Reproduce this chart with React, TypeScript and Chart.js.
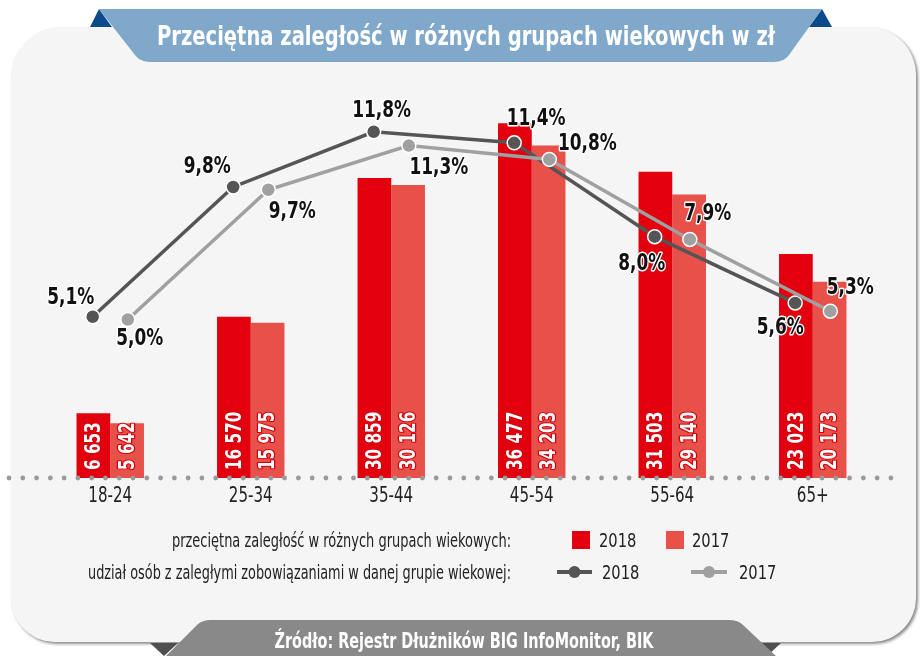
import React, { useEffect, useRef } from 'react';
import { Chart, registerables } from 'chart.js';

Chart.register(...registerables);

const categories = ['18-24', '25-34', '35-44', '45-54', '55-64', '65+'];
const debt2018 = [6653, 16570, 30859, 36477, 31503, 23023];
const debt2017 = [5642, 15975, 30126, 34203, 29140, 20173];
const share2018 = [5.1, 9.8, 11.8, 11.4, 8.0, 5.6];
const share2017 = [5.0, 9.7, 11.3, 10.8, 7.9, 5.3];
const yearLabels = ['2018', '2017'];

const TITLE = 'Przeciętna zaległość w różnych grupach wiekowych w zł';
const SOURCE = 'Źródło: Rejestr Dłużników BIG InfoMonitor, BIK';
const LEGEND_BARS = 'przeciętna zaległość w różnych grupach wiekowych:';
const LEGEND_LINES = 'udział osób z zaległymi zobowiązaniami w danej grupie wiekowej:';

// label placement (style), relative to point
const LABEL_OFF_2018 = [[-22, -19], [-26, -20], [8, -21], [22, -24], [-13, 27], [-15, 25]];
const LABEL_OFF_2017 = [[12, 20], [24, 22], [30, 22], [38, -15], [18, -25], [20, -23]];

const NARROW = "'DejaVu Sans Condensed', 'Liberation Sans Narrow', sans-serif";
const RED18 = '#e2000f';
const RED17 = '#e8504a';
const GRAY18 = '#555555';
const GRAY17 = '#a0a0a0';
const LINE_SHIFT = 0.125;

const fmtThousands = (n: number) => String(n).replace(/\B(?=(\d{3})+(?!\d))/g, ' ');
const fmtPct = (v: number) => v.toFixed(1).replace('.', ',') + '%';

// draw text squeezed horizontally by sx
function sText(
  ctx: CanvasRenderingContext2D,
  text: string,
  x: number,
  y: number,
  sx: number,
  align: CanvasTextAlign,
  stroke?: { color: string; width: number }
) {
  ctx.save();
  ctx.translate(x, y);
  ctx.scale(sx, 1);
  ctx.textAlign = align;
  if (stroke) {
    ctx.strokeStyle = stroke.color;
    ctx.lineWidth = stroke.width;
    ctx.lineJoin = 'round';
    ctx.strokeText(text, 0, 0);
  }
  ctx.fillText(text, 0, 0);
  ctx.restore();
}

// draw text fitted to target width
function fText(ctx: CanvasRenderingContext2D, text: string, x: number, y: number, width: number, align: CanvasTextAlign) {
  const w = ctx.measureText(text).width;
  sText(ctx, text, x, y, width / w, align);
}

const decorPlugin = {
  id: 'decor',
  beforeDraw(chart: any) {
    const ctx = chart.ctx as CanvasRenderingContext2D;
    const W = chart.width;
    const H = chart.height;
    ctx.save();
    ctx.fillStyle = '#ffffff';
    ctx.fillRect(0, 0, W, H);

    // panel
    ctx.save();
    ctx.shadowColor = 'rgba(0,0,0,0.45)';
    ctx.shadowOffsetX = 2;
    ctx.shadowOffsetY = 2;
    ctx.shadowBlur = 3;
    ctx.beginPath();
    (ctx as any).roundRect(11, 27, 905, 615, [50, 48, 44, 44]);
    ctx.fillStyle = '#f5f5f5';
    ctx.fill();
    ctx.restore();

    // title triangles
    ctx.fillStyle = '#0b4a8b';
    ctx.beginPath();
    ctx.moveTo(90, 27); ctx.lineTo(99, 9); ctx.lineTo(112, 27); ctx.closePath(); ctx.fill();
    ctx.beginPath();
    ctx.moveTo(809, 27); ctx.lineTo(822, 9); ctx.lineTo(832, 27); ctx.closePath(); ctx.fill();

    // title banner
    ctx.fillStyle = '#80a8cb';
    ctx.beginPath();
    ctx.moveTo(99, 9);
    ctx.lineTo(822, 9);
    ctx.lineTo(789, 55);
    ctx.quadraticCurveTo(784, 62, 774, 62);
    ctx.lineTo(150, 62);
    ctx.quadraticCurveTo(140, 62, 135, 55);
    ctx.closePath();
    ctx.fill();

    ctx.fillStyle = '#ffffff';
    ctx.font = `bold 26px ${NARROW}`;
    ctx.textBaseline = 'alphabetic';
    fText(ctx, TITLE, 466, 45, 618, 'center');

    // footer triangles
    ctx.fillStyle = '#4f4f4f';
    ctx.beginPath();
    ctx.moveTo(150, 643); ctx.lineTo(178, 643); ctx.lineTo(164, 656); ctx.closePath(); ctx.fill();
    ctx.beginPath();
    ctx.moveTo(752, 643); ctx.lineTo(781, 643); ctx.lineTo(767, 656); ctx.closePath(); ctx.fill();

    // footer banner
    ctx.fillStyle = '#898989';
    ctx.beginPath();
    ctx.moveTo(166, 656);
    ctx.lineTo(197, 625);
    ctx.quadraticCurveTo(202, 620, 211, 620);
    ctx.lineTo(729, 620);
    ctx.quadraticCurveTo(738, 620, 743, 625);
    ctx.lineTo(776, 656);
    ctx.closePath();
    ctx.fill();

    ctx.fillStyle = '#ffffff';
    ctx.font = `bold 22px ${NARROW}`;
    fText(ctx, SOURCE, 464, 648, 379, 'center');

    // legend
    ctx.fillStyle = '#222222';
    ctx.font = `19px ${NARROW}`;
    ctx.textBaseline = 'alphabetic';
    fText(ctx, LEGEND_BARS, 511, 547, 339, 'right');
    fText(ctx, LEGEND_LINES, 511, 579, 423, 'right');

    ctx.fillStyle = RED18;
    ctx.fillRect(572, 531, 18, 18);
    ctx.fillStyle = RED17;
    ctx.fillRect(666, 531, 18, 18);

    const lineLegend = (x0: number, x1: number, color: string) => {
      ctx.strokeStyle = color;
      ctx.lineWidth = 4;
      ctx.beginPath();
      ctx.moveTo(x0, 572);
      ctx.lineTo(x1, 572);
      ctx.stroke();
      ctx.fillStyle = color;
      ctx.beginPath();
      ctx.arc((x0 + x1) / 2, 572, 6, 0, Math.PI * 2);
      ctx.fill();
    };
    lineLegend(557, 592, GRAY18);
    lineLegend(691, 727, GRAY17);

    ctx.fillStyle = '#222222';
    ctx.font = `19px ${NARROW}`;
    sText(ctx, yearLabels[0], 599, 547, 0.86, 'left');
    sText(ctx, yearLabels[1], 692, 547, 0.86, 'left');
    sText(ctx, yearLabels[0], 602, 579, 0.86, 'left');
    sText(ctx, yearLabels[1], 739, 579, 0.86, 'left');
    ctx.restore();
  },
  afterDatasetsDraw(chart: any) {
    const ctx = chart.ctx as CanvasRenderingContext2D;
    const area = chart.chartArea;
    ctx.save();

    // bar value labels
    ctx.font = `bold 22px ${NARROW}`;
    ctx.textBaseline = 'middle';
    chart.data.datasets.forEach((ds: any, di: number) => {
      if (ds.type !== 'bar') return;
      const meta = chart.getDatasetMeta(di);
      meta.data.forEach((el: any, i: number) => {
        ctx.save();
        ctx.translate(el.x, area.bottom - 8);
        ctx.rotate(-Math.PI / 2);
        ctx.fillStyle = '#ffffff';
        sText(ctx, fmtThousands(ds.data[i]), 0, 1, 0.77, 'left', { color: '#d0000c', width: 2.5 });
        ctx.restore();
      });
    });

    // dotted axis
    ctx.fillStyle = '#9a9a9a';
    for (let x = 9; x <= 891; x += 13.78) {
      ctx.beginPath();
      ctx.arc(x, area.bottom, 2.4, 0, Math.PI * 2);
      ctx.fill();
    }

    // category labels from the x scale
    const xs = chart.scales.x;
    ctx.fillStyle = '#222222';
    ctx.font = `21px ${NARROW}`;
    ctx.textBaseline = 'alphabetic';
    xs.ticks.forEach((_t: any, i: number) => {
      sText(ctx, String(chart.data.labels[i]), xs.getPixelForTick(i), area.bottom + 24, 0.8, 'center');
    });
    ctx.restore();
  },
  afterDraw(chart: any) {
    const ctx = chart.ctx as CanvasRenderingContext2D;
    ctx.save();
    ctx.font = `bold 23px ${NARROW}`;
    ctx.textBaseline = 'middle';
    chart.data.datasets.forEach((ds: any, di: number) => {
      if (ds.type !== 'line') return;
      const offs = ds.labelOffsets as number[][];
      const meta = chart.getDatasetMeta(di);
      meta.data.forEach((el: any, i: number) => {
        ctx.fillStyle = '#111111';
        sText(ctx, fmtPct(ds.data[i].y), el.x + offs[i][0], el.y + offs[i][1], 0.82, 'center', { color: '#ffffff', width: 3 });
      });
    });
    ctx.restore();
  },
};

export default function App() {
  const ref = useRef<HTMLCanvasElement | null>(null);

  useEffect(() => {
    document.body.style.margin = '0';
    if (!ref.current) return;
    const lineDs = (vals: number[], shift: number, color: string, label: string, offs: number[][], order: number) => ({
      type: 'line' as const,
      label,
      data: vals.map((v, i) => ({ x: i + shift, y: v })),
      xAxisID: 'xl',
      yAxisID: 'yp',
      borderColor: color,
      backgroundColor: color,
      borderWidth: 3.5,
      pointRadius: 7,
      pointBorderColor: '#ffffff',
      pointBorderWidth: 1.5,
      pointBackgroundColor: color,
      tension: 0,
      order,
      labelOffsets: offs,
    });
    const chart = new Chart(ref.current, {
      type: 'bar',
      data: {
        labels: categories,
        datasets: [
          lineDs(share2018, -LINE_SHIFT, GRAY18, yearLabels[0], LABEL_OFF_2018, 1) as any,
          lineDs(share2017, LINE_SHIFT, GRAY17, yearLabels[1], LABEL_OFF_2017, 0) as any,
          {
            type: 'bar',
            label: yearLabels[0],
            data: debt2018,
            backgroundColor: RED18,
            xAxisID: 'x',
            yAxisID: 'y',
            categoryPercentage: 0.96,
            barPercentage: 1,
            order: 2,
          },
          {
            type: 'bar',
            label: yearLabels[1],
            data: debt2017,
            backgroundColor: RED17,
            xAxisID: 'x',
            yAxisID: 'y',
            categoryPercentage: 0.96,
            barPercentage: 1,
            order: 2,
          },
        ],
      },
      options: {
        animation: false,
        responsive: true,
        maintainAspectRatio: false,
        layout: { padding: { top: 89, left: 40, right: 37, bottom: 0 } },
        plugins: { legend: { display: false }, tooltip: { enabled: false } },
        scales: {
          x: {
            type: 'category',
            offset: true,
            grid: { display: false, drawTicks: false },
            border: { display: false },
            ticks: { display: false },
            afterFit: (s: any) => { s.height = 178; },
          },
          xl: { type: 'linear', display: false, offset: false, grid: { offset: false }, min: -0.5, max: 5.5 },
          y: { type: 'linear', display: false, min: 0, max: 40000 },
          yp: { type: 'linear', display: false, min: -0.743, max: 13.35 },
        },
      },
      plugins: [decorPlugin],
    } as any);
    return () => chart.destroy();
  }, []);

  return (
    <div style={{ width: 920, height: 656, position: 'relative' }}>
      <canvas ref={ref} />
    </div>
  );
}
